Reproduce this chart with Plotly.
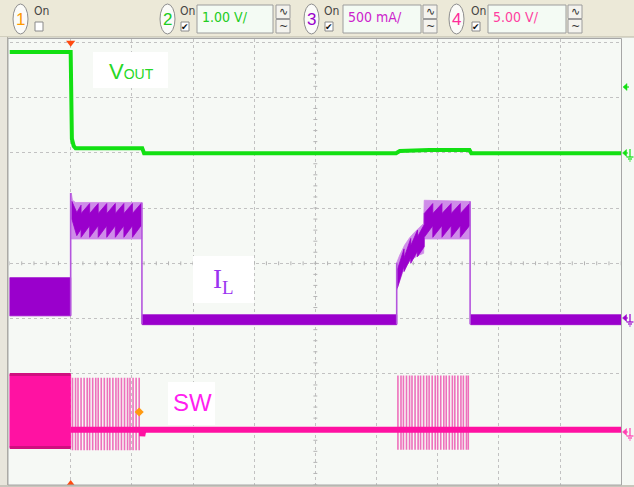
import plotly.graph_objects as go

W, H = 634, 487

# ---------------- waveform data (screen divisions: x 0..10, y 0..8) ----------
vout_t = [0.00, 1.00, 1.02, 1.05, 1.08, 2.17, 2.20, 6.32, 6.38, 6.86, 7.52, 7.55, 10.00]
vout_v = [7.82, 7.82, 6.25, 6.12, 6.08, 6.08, 5.99, 5.99, 6.03, 6.05, 6.05, 5.99, 5.99]

il_pre_t = [0.00, 1.00]
il_pre_hi = [3.74, 3.74]
il_pre_lo = [3.05, 3.05]

il_env1_t = [1.01, 1.03, 1.08, 2.16]
il_env1_hi = [5.27, 5.14, 5.10, 5.10]
il_env1_lo = [4.44, 4.43, 4.43, 4.44]

il_core1_t = [1.02, 1.10, 1.17, 1.17, 1.31, 1.31, 1.45, 1.45, 1.59, 1.59, 1.73, 1.73, 1.87, 1.87, 2.01, 2.01, 2.15]
il_core1_hi = [5.12, 4.92, 5.05, 4.90, 5.08, 4.90, 5.08, 4.90, 5.08, 4.90, 5.08, 4.90, 5.08, 4.90, 5.08, 4.90, 5.08]
il_core1_lo = [4.80, 4.50, 4.62, 4.47, 4.68, 4.47, 4.68, 4.47, 4.68, 4.47, 4.68, 4.47, 4.68, 4.47, 4.68, 4.47, 4.68]

il_env2_t = [6.33, 6.38, 6.46, 6.54, 6.62, 6.70, 6.77, 6.78, 7.52]
il_env2_hi = [4.01, 4.15, 4.33, 4.46, 4.56, 4.64, 4.72, 5.14, 5.12]
il_env2_lo = [3.52, 3.70, 3.94, 4.03, 4.10, 4.15, 4.18, 4.44, 4.44]

il_core2_t = [6.34, 6.45, 6.45, 6.56, 6.56, 6.67, 6.67, 6.78, 6.78, 6.92, 6.92, 7.07, 7.07, 7.22, 7.22, 7.37, 7.37, 7.52]
il_core2_hi = [3.88, 4.26, 4.10, 4.45, 4.32, 4.60, 4.48, 4.70, 4.90, 5.08, 4.90, 5.08, 4.90, 5.08, 4.90, 5.08, 4.90, 5.08]
il_core2_lo = [3.55, 3.95, 3.85, 4.10, 4.00, 4.22, 4.12, 4.30, 4.47, 4.68, 4.47, 4.68, 4.47, 4.68, 4.47, 4.68, 4.47, 4.68]

il_low_t = [[2.17, 6.33], [7.54, 10.00]]
il_low_hi = 3.07
il_low_lo = 2.89

il_edge_t = [1.00, 2.165, 6.33, 7.53]
il_edge_lo = [3.05, 2.90, 2.90, 2.90]
il_edge_hi = [5.27, 5.10, 4.01, 5.12]

sw_pre_t = [0.00, 1.00]
sw_pre_hi = [1.99, 1.99]
sw_pre_lo = [0.67, 0.67]

sw_pulse1_t = [1.03, 1.08, 1.12, 1.17, 1.22, 1.27, 1.31, 1.36, 1.41, 1.45, 1.50, 1.55,
               1.60, 1.64, 1.69, 1.74, 1.78, 1.83, 1.88, 1.93, 1.97, 2.02, 2.07, 2.12]
sw_pulse1_hi, sw_pulse1_lo = 1.93, 0.62
sw_pulse2_t = [6.35, 6.40, 6.44, 6.49, 6.54, 6.58, 6.63, 6.68, 6.72, 6.77, 6.82, 6.86, 6.91,
               6.96, 7.00, 7.05, 7.10, 7.14, 7.19, 7.24, 7.28, 7.33, 7.38, 7.42, 7.47, 7.50]
sw_pulse2_hi, sw_pulse2_lo = 1.97, 0.63

sw_base_t = [1.00, 2.16, 2.17, 2.19, 10.00]
sw_base_v = [0.99, 0.99, 0.88, 0.99, 0.99]

trigger_t = 1.00
cursor_t, cursor_v = 2.12, 1.31
gnd_levels = [5.99, 3.01, 0.97]
trig_level = 7.19

# ---------------- colours ----------------
GREEN = "#12e012"
PURP = "#9a00cc"
PURP_L = "#cf8ce9"
PINK = "#ff12a2"
PINK_L = "#ee70bc"
PINK_D = "#cf107f"

fig = go.Figure()


def band(t, hi, lo, color, opacity=1.0):
    xs = list(t) + list(t)[::-1] + [t[0]]
    ys = list(hi) + list(lo)[::-1] + [hi[0]]
    fig.add_trace(go.Scatter(x=xs, y=ys, mode="lines", fill="toself", fillcolor=color,
                             line=dict(color=color, width=0.8), opacity=opacity,
                             hoverinfo="skip"))


def segs(ts, lo, hi):
    xs, ys = [], []
    for i, t in enumerate(ts):
        l = lo[i] if isinstance(lo, list) else lo
        h = hi[i] if isinstance(hi, list) else hi
        xs += [t, t, None]
        ys += [l, h, None]
    return xs, ys


# graticule centre ticks
cx, cy = [], []
for k in range(51):
    cx += [k * 0.2, k * 0.2, None]
    cy += [3.965, 4.035, None]
for k in range(41):
    cx += [4.968, 5.032, None]
    cy += [k * 0.2, k * 0.2, None]
fig.add_trace(go.Scatter(x=cx, y=cy, mode="lines", line=dict(color="#b4b4b4", width=1),
                         hoverinfo="skip"))

# ---- IL ----
band(il_pre_t, il_pre_hi, il_pre_lo, PURP)
band(il_env1_t, il_env1_hi, il_env1_lo, PURP_L)
band(il_core1_t, il_core1_hi, il_core1_lo, PURP)
band(il_env2_t, il_env2_hi, il_env2_lo, PURP_L)
band(il_core2_t, il_core2_hi, il_core2_lo, PURP)
for seg_t in il_low_t:
    band(seg_t, [il_low_hi] * 2, [il_low_lo] * 2, PURP)
ex, ey = segs(il_edge_t, il_edge_lo, il_edge_hi)
fig.add_trace(go.Scatter(x=ex, y=ey, mode="lines", line=dict(color="#b455dd", width=1.6),
                         hoverinfo="skip"))

# ---- SW ----
band(sw_pre_t, sw_pre_hi, sw_pre_lo, PINK)
fig.add_trace(go.Scatter(x=sw_pre_t, y=sw_pre_hi, mode="lines", line=dict(color=PINK_D, width=3)))
fig.add_trace(go.Scatter(x=sw_pre_t, y=sw_pre_lo, mode="lines", line=dict(color=PINK_D, width=3)))
px1, py1 = segs(sw_pulse1_t, sw_pulse1_lo, sw_pulse1_hi)
px2, py2 = segs(sw_pulse2_t, sw_pulse2_lo, sw_pulse2_hi)
fig.add_trace(go.Scatter(x=px1 + px2, y=py1 + py2, mode="lines",
                         line=dict(color=PINK_L, width=1.6), hoverinfo="skip"))
fig.add_trace(go.Scatter(x=sw_base_t, y=sw_base_v, mode="lines",
                         line=dict(color=PINK, width=6), hoverinfo="skip"))

# ---- VOUT ----
fig.add_trace(go.Scatter(x=vout_t, y=vout_v, mode="lines",
                         line=dict(color=GREEN, width=4), hoverinfo="skip"))

# markers: trigger position, cursor
fig.add_trace(go.Scatter(x=[trigger_t], y=[7.99], mode="markers", cliponaxis=False,
                         marker=dict(symbol="triangle-down", size=8, color="#ff4a10")))
fig.add_trace(go.Scatter(x=[trigger_t], y=[0.02], mode="markers", cliponaxis=False,
                         marker=dict(symbol="triangle-up", size=7, color="#ff4a10")))
fig.add_trace(go.Scatter(x=[cursor_t], y=[cursor_v], mode="markers",
                         marker=dict(symbol="diamond", size=7, color="#ff9a10")))

# ---------------- layout ----------------
def PX(x):
    return x / W


def PY(y):
    return 1 - y / H


shapes, ann = [], []


def rect(x0, y0, x1, y1, fill, line="rgba(0,0,0,0)", lw=1, kind="rect"):
    shapes.append(dict(type=kind, xref="paper", yref="paper", x0=PX(x0), x1=PX(x1),
                       y0=PY(y1), y1=PY(y0), fillcolor=fill,
                       line=dict(color=line, width=lw), layer="above"))


def seg(x0, y0, x1, y1, color, lw=1):
    shapes.append(dict(type="line", xref="paper", yref="paper", x0=PX(x0), x1=PX(x1),
                       y0=PY(y0), y1=PY(y1), line=dict(color=color, width=lw), layer="above"))


def tri_left(x, y, color):
    path = "M {:.5f},{:.5f} L {:.5f},{:.5f} L {:.5f},{:.5f} Z".format(
        PX(x), PY(y), PX(x + 4), PY(y - 3.5), PX(x + 4), PY(y + 3.5))
    shapes.append(dict(type="path", xref="paper", yref="paper", path=path, fillcolor=color,
                       line=dict(color=color, width=0.5), layer="above"))


def text(x, y, s, size, color, family="Liberation Sans, Arial, sans-serif", xanchor="center"):
    ann.append(dict(xref="paper", yref="paper", x=PX(x), y=PY(y), text=s, showarrow=False,
                    xanchor=xanchor, yanchor="middle",
                    font=dict(size=size, color=color, family=family)))


# toolbar
rect(0, 0, W, 37, "#ece9d8")
seg(0, 37, W, 37, "#b8b4a4")
# left strip
rect(0, 37, 8, H, "#e8e6dc")
seg(7.5, 37, 7.5, H, "#b0aea4")
seg(0, 486, W, 486, "#c8c6bc", 2)
# plot frame
rect(8, 38.5, 621.5, 485, "rgba(0,0,0,0)", "#a6a6a6", 1)

narrow = "Liberation Sans Narrow, DejaVu Sans Condensed, Liberation Sans, Arial"
chans = [
    (13, 28, "#ff9a00", 41, False, None, None, None, None, None),
    (160, 175, "#20cc20", 187, True, 197, 273, "1.00 V/", "#22cc22", 276),
    (304, 319, "#9900cc", 331, True, 343, 421, "500 mA/", "#cc22cc", 423),
    (449, 464, "#ff2a9a", 478, True, 488, 566, "5.00 V/", "#ff3fa0", 568),
]
for i, (c0, c1, dcol, onx, chk, b0, b1, btxt, bcol, bt0) in enumerate(chans):
    rect(c0, 4, c1, 34, "#fbfbf8", "#8e8e8e", 1, kind="circle")
    text((c0 + c1) / 2, 19.5, str(i + 1), 17, dcol)
    text(onx, 11, "On", 12, "#444444", narrow)
    rect(onx - 6, 22, onx + 2, 31, "#ffffff", "#8a8a8a", 1)
    if chk:
        text(onx - 2, 26.5, "✔", 9, "#111111", "DejaVu Sans")
    if b0 is not None:
        rect(b0, 5, b1, 33, "#f4fbf4", "#9c9c9c", 1)
        text(b0 + 3, 17, btxt, 14, bcol, narrow, xanchor="left")
        rect(bt0, 5, bt0 + 14, 18.5, "#f4f3ee", "#9c9c9c", 1)
        rect(bt0, 19.5, bt0 + 14, 33, "#f4f3ee", "#9c9c9c", 1)
        text(bt0 + 7, 11.5, "∿", 11, "#333333", "DejaVu Sans")
        text(bt0 + 7, 26, "~", 11, "#333333", "DejaVu Sans")

# trigger level arrow and ground reference symbols at right
tri_left(623, 87, GREEN)
seg(626, 87, 629, 87, GREEN, 1.2)
for yy, col in zip([153, 318, 432], [GREEN, PURP, "#ff3fb0"]):
    tri_left(622.5, yy, col)
    seg(626, yy, 628, yy, col, 1.2)
    seg(630, yy - 4, 630, yy + 4, col, 1.2)
    seg(626.5, yy + 4, 633.5, yy + 4, col, 1.2)
    seg(628, yy + 6, 632, yy + 6, col, 1.2)
    seg(629.3, yy + 8, 630.7, yy + 8, col, 1.2)

# trace labels
rect(93, 52, 168, 88, "#ffffff")
text(131, 71, "V<span style='font-size:14px'>OUT</span>", 22, "#26d826")
rect(193, 256, 254, 303, "#ffffff")
text(223, 281, "I<sub>L</sub>", 27, "#9a33f0", "Liberation Serif, Times New Roman, serif")
rect(168, 382, 215, 425, "#ffffff")
text(192, 402, "SW", 24, "#ff1ff0")

fig.update_layout(
    width=W, height=H, margin=dict(l=0, r=0, t=0, b=0, autoexpand=False),
    paper_bgcolor="#f5f8f4", plot_bgcolor="#f6f9f5", showlegend=False,
    xaxis=dict(domain=[9.5 / W, 621.2 / W], range=[0, 10], tick0=0, dtick=1,
               showgrid=True, gridcolor="#c2c2c2", griddash="dot", gridwidth=1,
               zeroline=False, showticklabels=False, ticks="", showline=False, fixedrange=True),
    yaxis=dict(domain=[1 - 484.5 / H, 1 - 39 / H], range=[0, 8.056], tick0=0, dtick=1,
               showgrid=True, gridcolor="#c2c2c2", griddash="dot", gridwidth=1,
               zeroline=False, showticklabels=False, ticks="", showline=False, fixedrange=True),
    shapes=shapes, annotations=ann,
)

fig.write_html("out.html", config={"displayModeBar": False},
               post_script="document.body.style.margin='0';document.body.style.overflow='hidden';")
